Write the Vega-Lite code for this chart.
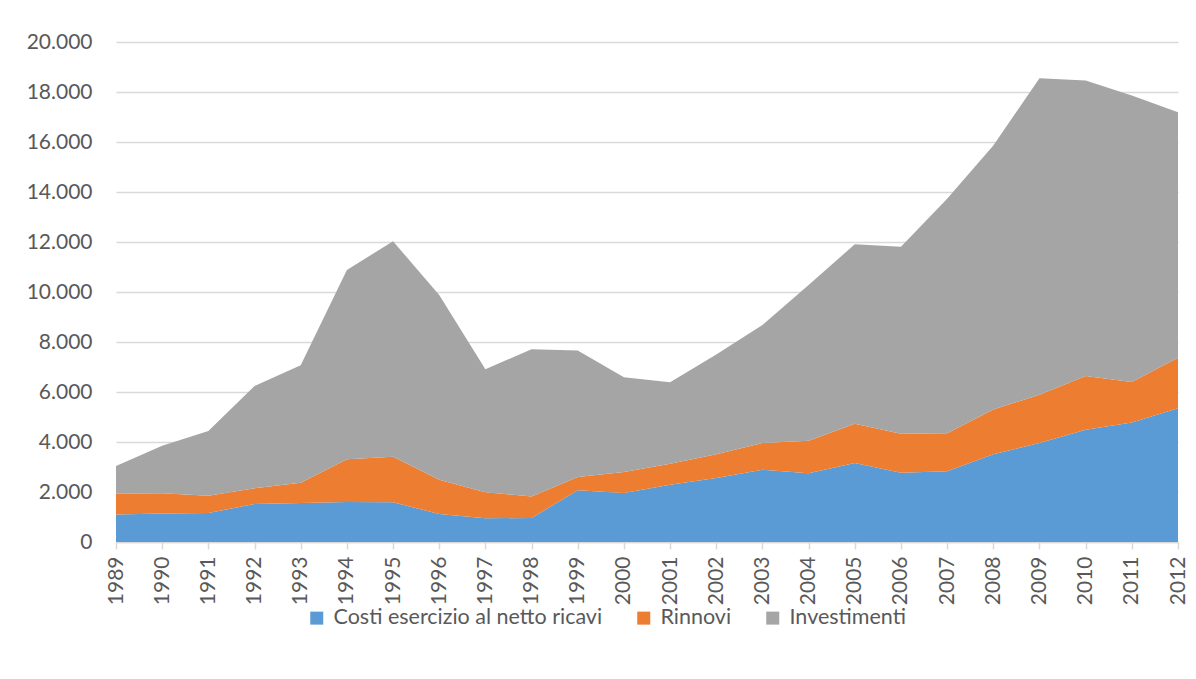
{
  "$schema": "https://vega.github.io/schema/vega-lite/v6.json",
  "width": 1062,
  "height": 500,
  "autosize": "none",
  "padding": {"left": 116, "top": 42, "right": 18, "bottom": 137},
  "background": "white",
  "datasets": {
    "serie": [
      {"serie": "Costi esercizio al netto ricavi", "ordine": 1},
      {"serie": "Rinnovi", "ordine": 2},
      {"serie": "Investimenti", "ordine": 3}
    ]
  },
  "data": {
    "values": [
      {"anno": "1989", "Costi esercizio al netto ricavi": 1100, "Rinnovi": 830, "Investimenti": 1110},
      {"anno": "1990", "Costi esercizio al netto ricavi": 1140, "Rinnovi": 810, "Investimenti": 1900},
      {"anno": "1991", "Costi esercizio al netto ricavi": 1160, "Rinnovi": 690, "Investimenti": 2590},
      {"anno": "1992", "Costi esercizio al netto ricavi": 1520, "Rinnovi": 630, "Investimenti": 4090},
      {"anno": "1993", "Costi esercizio al netto ricavi": 1560, "Rinnovi": 810, "Investimenti": 4700},
      {"anno": "1994", "Costi esercizio al netto ricavi": 1600, "Rinnovi": 1710, "Investimenti": 7570},
      {"anno": "1995", "Costi esercizio al netto ricavi": 1590, "Rinnovi": 1820, "Investimenti": 8620},
      {"anno": "1996", "Costi esercizio al netto ricavi": 1120, "Rinnovi": 1370, "Investimenti": 7390},
      {"anno": "1997", "Costi esercizio al netto ricavi": 950, "Rinnovi": 1040, "Investimenti": 4920},
      {"anno": "1998", "Costi esercizio al netto ricavi": 960, "Rinnovi": 860, "Investimenti": 5890},
      {"anno": "1999", "Costi esercizio al netto ricavi": 2070, "Rinnovi": 530, "Investimenti": 5060},
      {"anno": "2000", "Costi esercizio al netto ricavi": 1960, "Rinnovi": 840, "Investimenti": 3790},
      {"anno": "2001", "Costi esercizio al netto ricavi": 2290, "Rinnovi": 840, "Investimenti": 3260},
      {"anno": "2002", "Costi esercizio al netto ricavi": 2560, "Rinnovi": 950, "Investimenti": 3990},
      {"anno": "2003", "Costi esercizio al netto ricavi": 2890, "Rinnovi": 1070, "Investimenti": 4720},
      {"anno": "2004", "Costi esercizio al netto ricavi": 2750, "Rinnovi": 1300, "Investimenti": 6230},
      {"anno": "2005", "Costi esercizio al netto ricavi": 3160, "Rinnovi": 1570, "Investimenti": 7180},
      {"anno": "2006", "Costi esercizio al netto ricavi": 2770, "Rinnovi": 1560, "Investimenti": 7480},
      {"anno": "2007", "Costi esercizio al netto ricavi": 2830, "Rinnovi": 1520, "Investimenti": 9380},
      {"anno": "2008", "Costi esercizio al netto ricavi": 3510, "Rinnovi": 1790, "Investimenti": 10560},
      {"anno": "2009", "Costi esercizio al netto ricavi": 3960, "Rinnovi": 1930, "Investimenti": 12660},
      {"anno": "2010", "Costi esercizio al netto ricavi": 4490, "Rinnovi": 2150, "Investimenti": 11820},
      {"anno": "2011", "Costi esercizio al netto ricavi": 4780, "Rinnovi": 1620, "Investimenti": 11460},
      {"anno": "2012", "Costi esercizio al netto ricavi": 5350, "Rinnovi": 2020, "Investimenti": 9820}
    ]
  },
  "transform": [
    {"fold": ["Costi esercizio al netto ricavi", "Rinnovi", "Investimenti"], "as": ["serie", "valore"]},
    {"lookup": "serie", "from": {"data": {"name": "serie"}, "key": "serie", "fields": ["ordine"]}}
  ],
  "mark": {"type": "area", "interpolate": "linear"},
  "encoding": {
    "x": {
      "field": "anno",
      "type": "ordinal",
      "scale": {"type": "point", "padding": 0},
      "axis": {
        "title": null,
        "labelAngle": -90,
        "labelFont": "Lato",
        "labelFontSize": 21,
        "labelColor": "#595959",
        "labelPadding": 7,
        "domainColor": "#D9D9D9",
        "domainWidth": 1.5,
        "tickColor": "#D9D9D9",
        "tickWidth": 1.5,
        "tickSize": 7,
        "grid": false
      }
    },
    "y": {
      "field": "valore",
      "type": "quantitative",
      "stack": "zero",
      "scale": {"domain": [0, 20000], "nice": false},
      "axis": {
        "title": null,
        "values": [0, 2000, 4000, 6000, 8000, 10000, 12000, 14000, 16000, 18000, 20000],
        "labelExpr": "replace(format(datum.value, ','), ',', '.')",
        "labelFont": "Lato",
        "labelFontSize": 21,
        "labelColor": "#595959",
        "labelPadding": 24,
        "domain": false,
        "ticks": false,
        "grid": true,
        "gridColor": "#D9D9D9",
        "gridWidth": 1.5
      }
    },
    "order": {"field": "ordine", "type": "quantitative", "sort": "ascending"},
    "color": {
      "field": "serie",
      "type": "nominal",
      "sort": ["Costi esercizio al netto ricavi", "Rinnovi", "Investimenti"],
      "scale": {
        "domain": ["Costi esercizio al netto ricavi", "Rinnovi", "Investimenti"],
        "range": ["#5B9BD5", "#ED7D31", "#A5A5A5"]
      },
      "legend": {
        "title": null,
        "orient": "none",
        "direction": "horizontal",
        "legendX": 190,
        "legendY": 565,
        "padding": 0,
        "symbolType": "square",
        "symbolSize": 169,
        "symbolStrokeWidth": 0,
        "symbolOpacity": 1,
        "labelFont": "Lato",
        "labelFontSize": 21.5,
        "labelColor": "#595959",
        "labelOffset": 6,
        "columnPadding": 30,
        "labelLimit": 400
      }
    }
  },
  "config": {
    "view": {"stroke": null},
    "axis": {"zindex": 0}
  }
}
